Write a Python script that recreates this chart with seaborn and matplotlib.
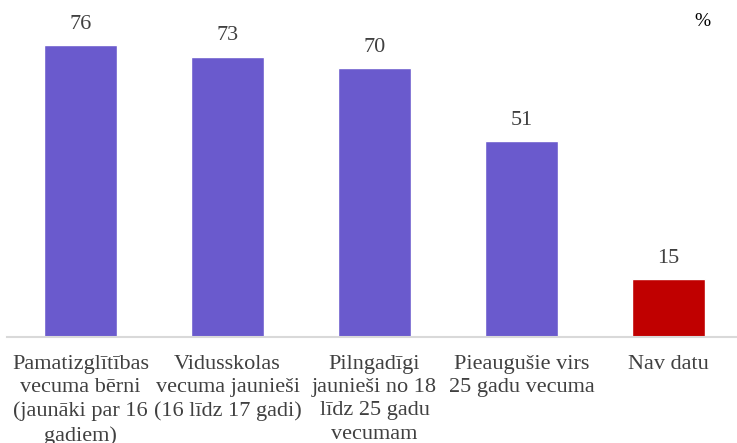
import pandas as pd
import seaborn as sns
import matplotlib.pyplot as plt

categories = [
    "Pamatizglītības\nvecuma bērni\n(jaunāki par 16\ngadiem)",
    "Vidusskolas\nvecuma jaunieši\n(16 līdz 17 gadi)",
    "Pilngadīgi\njaunieši no 18\nlīdz 25 gadu\nvecumam",
    "Pieaugušie virs\n25 gadu vecuma",
    "Nav datu",
]
values = [76, 73, 70, 51, 15]
colors = ["#6A5ACD", "#6A5ACD", "#6A5ACD", "#6A5ACD", "#C00000"]

df = pd.DataFrame({"grupa": categories, "vertiba": values})

sns.set_style("white")
plt.rcParams["font.family"] = ["Liberation Serif", "DejaVu Serif"]

fig = plt.figure(figsize=(7.37, 4.43), dpi=100)
ax = fig.add_axes([7 / 737, 106 / 443, 735 / 737, 337 / 443])

sns.barplot(data=df, x="grupa", y="vertiba", hue="grupa", palette=colors,
            width=0.5, legend=False, ax=ax, saturation=1)

for i, v in enumerate(values):
    ax.text(i, v + 3, str(v), ha="center", va="bottom", fontsize=16, color="#404040")

ax.set_xlim(-0.5, 4.5)
ax.set_ylim(0, 87.8)
ax.set_xlabel("")
ax.set_ylabel("")
ax.set_yticks([])
ax.tick_params(axis="x", length=0, pad=13, labelsize=16, labelcolor="#404040")
for lbl in ax.get_xticklabels():
    lbl.set_linespacing(1.3)
for s in ["top", "right", "left"]:
    ax.spines[s].set_visible(False)
ax.spines["bottom"].set_color("#D9D9D9")
ax.spines["bottom"].set_linewidth(1.5)

fig.text(702 / 737, 1 - 21 / 443, "%", ha="center", va="center", fontsize=14, color="black")

fig.savefig("out.png", dpi=100)
